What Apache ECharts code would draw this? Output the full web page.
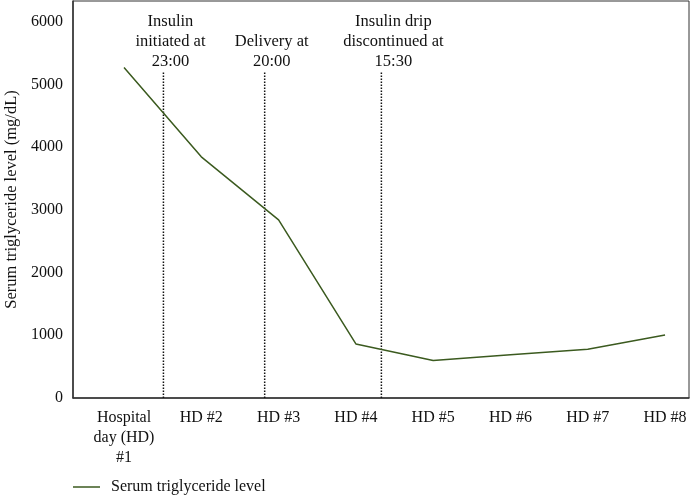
<!DOCTYPE html>
<html lang="en">
<head>
    <meta charset="UTF-8"/>
    <title>Serum triglyceride level</title>
    <script type="text/javascript" src="https://cdn.jsdelivr.net/npm/echarts@6/dist/echarts.min.js"></script>
</head>
<body style="margin:0">
<div id="main" style="width: 690px;height: 495px"></div>
<script type="text/javascript">
    // data
    var categories = ['Hospital\nday (HD)\n#1', 'HD #2', 'HD #3', 'HD #4', 'HD #5', 'HD #6', 'HD #7', 'HD #8'];
    var tgValues = [5268, 3845, 2840, 862, 597, 688, 778, 1005];
    var yTicks = [0, 1000, 2000, 3000, 4000, 5000, 6000];

    // event markers (position on day axis) and their labels
    var eventPos = [0.51, 1.82, 3.33];
    var eventTop = 5200;
    var eventLabels = ['Insulin\ninitiated at\n23:00', 'Delivery at\n20:00', 'Insulin drip\ndiscontinued at\n15:30'];

    var font = '"Liberation Serif", "DejaVu Serif", serif';
    var myChart = echarts.init(document.getElementById('main'));

    var series = [{
        name: 'Serum triglyceride level',
        type: 'line',
        symbol: 'none',
        data: tgValues.map(function (v, i) { return [i, v]; }),
        lineStyle: { color: '#3b5a1f', width: 1.5 },
        itemStyle: { color: '#3b5a1f' },
        z: 3
    }];

    eventPos.forEach(function (x, i) {
        series.push({
            name: 'event' + i,
            type: 'line',
            symbol: 'none',
            data: [[x, 0], [x, eventTop]],
            lineStyle: { color: '#111', width: 1.5, type: [1.5, 1.5] },
            endLabel: {
                show: true,
                position: 'top',
                distance: 7,
                offset: [i === 2 ? 5 : 0, 0],
                formatter: eventLabels[i],
                fontFamily: font,
                fontSize: 16.5,
                lineHeight: 20,
                color: '#111',
                align: 'center',
                verticalAlign: 'bottom'
            },
            emphasis: { disabled: true },
            z: 2
        });
    });

    var option = {
        animation: false,
        grid: {
            left: 73, right: 1, top: 1, bottom: 97,
            outerBoundsMode: 'none',
            containLabel: false,
            show: true, borderColor: '#333', borderWidth: 1
        },
        legend: {
            data: [{ name: 'Serum triglyceride level', icon: 'rect' }],
            left: 68, top: 474,
            itemWidth: 27, itemHeight: 1.5,
            itemGap: 10,
            textStyle: { fontFamily: font, fontSize: 16, color: '#111', padding: [0, 0, 0, 6] }
        },
        xAxis: {
            type: 'value',
            min: -0.66, max: 7.31,
            splitLine: { show: false },
            axisTick: { show: false },
            axisLine: { show: true, onZero: false, lineStyle: { color: '#333', width: 1.5 } },
            axisLabel: {
                customValues: categories.map(function (c, i) { return i; }),
                formatter: function (v) { return categories[Math.round(v)]; },
                fontFamily: font, fontSize: 16, lineHeight: 20, color: '#111',
                margin: 10, verticalAlign: 'top'
            }
        },
        yAxis: {
            type: 'value',
            min: 0, max: 6330,
            name: 'Serum triglyceride level (mg/dL)',
            nameLocation: 'middle',
            nameGap: 53,
            nameTextStyle: { fontFamily: font, fontSize: 16.5, color: '#111' },
            splitLine: { show: false },
            axisTick: { show: false },
            axisLine: { show: true, onZero: false, lineStyle: { color: '#333', width: 1.5 } },
            axisLabel: {
                customValues: yTicks,
                formatter: function (v) { return String(v); },
                fontFamily: font, fontSize: 16, color: '#111', margin: 10
            }
        },
        series: series
    };

    myChart.setOption(option);
</script>
</body>
</html>
